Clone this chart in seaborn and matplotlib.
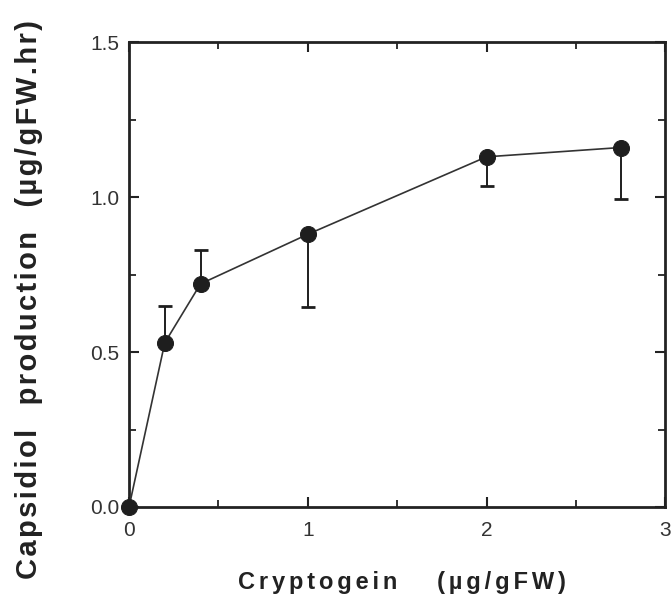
import matplotlib
matplotlib.use("Agg")
import matplotlib.pyplot as plt
import seaborn as sns
import numpy as np
import pandas as pd
from matplotlib.ticker import MultipleLocator

# Data
cryptogein = [0.0, 0.2, 0.4, 1.0, 2.0, 2.75]
capsidiol = [0.0, 0.53, 0.72, 0.88, 1.13, 1.16]
err_lower = [0.0, 0.0, 0.0, 0.235, 0.095, 0.167]
err_upper = [0.0, 0.12, 0.11, 0.0, 0.0, 0.0]

x_ticks = [0, 1, 2, 3]
x_tick_labels = ["0", "1", "2", "3"]
y_ticks = [0.0, 0.5, 1.0, 1.5]
y_tick_labels = ["0.0", "0.5", "1.0", "1.5"]

x_label_words = ["Cryptogein", "(\u00b5g/gFW)"]
y_label_words = ["Capsidiol", "production", "(\u00b5g/gFW.hr)"]

df = pd.DataFrame({"x": cryptogein, "y": capsidiol})

sns.set_style("ticks")
plt.rcParams['font.family'] = ['Liberation Sans', 'DejaVu Sans']


def tracked(words, sep, gap):
    """Letter-spaced label text."""
    return gap.join(sep.join(w) for w in words)


fig = plt.figure(figsize=(6.72, 5.99), dpi=100)
ax = fig.add_axes([0.192, 0.1536, 0.798, 0.776])

mark_color = "#1e1e1e"
ax.errorbar(cryptogein, capsidiol, yerr=[err_lower, err_upper], fmt="none",
            ecolor=mark_color, elinewidth=1.4, capsize=5, capthick=2.0, zorder=2)
sns.lineplot(data=df, x="x", y="y", ax=ax, color="#333333", linewidth=1.2,
             marker="o", markersize=11.5, markerfacecolor=mark_color,
             markeredgecolor=mark_color, zorder=3)

ax.set_xlim(0, 3)
ax.set_ylim(0, 1.5)
ax.set_xticks(x_ticks)
ax.set_xticklabels(x_tick_labels)
ax.set_yticks(y_ticks)
ax.set_yticklabels(y_tick_labels)
ax.xaxis.set_minor_locator(MultipleLocator(0.5))
ax.yaxis.set_minor_locator(MultipleLocator(0.25))

ax.tick_params(which="both", direction="in", top=True, right=True,
               colors="#222222", labelcolor="#333333", labelsize=15, pad=7)
ax.tick_params(axis="x", which="major", pad=10)
ax.tick_params(which="major", length=7, width=1.5)
ax.tick_params(which="minor", length=5, width=1.3)

for s in ax.spines.values():
    s.set_linewidth(2.0)
    s.set_color("#222222")
    s.set_visible(True)

ax.set_xlabel(tracked(x_label_words, "\u2006", "      "), fontsize=17,
              fontweight="bold", color="#222222")
ax.set_ylabel(tracked(y_label_words, "\u200a", "   "), fontsize=21,
              fontweight="bold", color="#222222")
ax.xaxis.set_label_coords(0.509, -0.163)
ax.yaxis.set_label_coords(-0.187, 0.447)
ax.xaxis.label.set_va("center")
ax.yaxis.label.set_va("center")

for ln in ax.lines:
    ln.set_clip_on(False)

fig.savefig("out.png", dpi=100)
